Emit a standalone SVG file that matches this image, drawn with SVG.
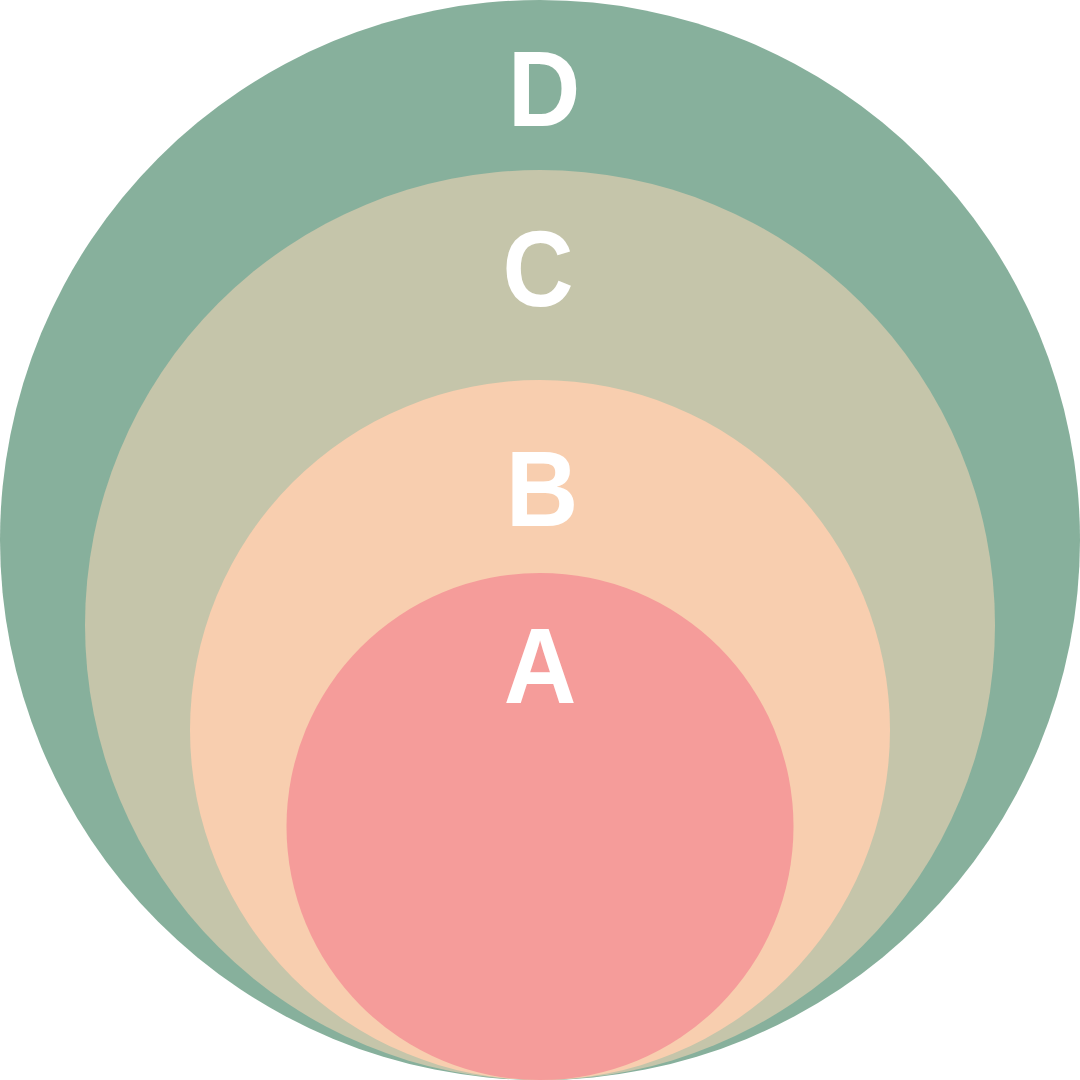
<svg xmlns="http://www.w3.org/2000/svg" width="1080" height="1080" viewBox="0 0 1080 1080">
<style>
.lbl{font-family:"Liberation Sans",Arial,sans-serif;font-weight:bold;font-size:107px;fill:#ffffff;text-anchor:middle}
</style>
<rect width="1080" height="1080" fill="#ffffff"/>
<g id="node-D"><circle cx="540" cy="540" r="540" fill="#87b09c"/><text class="lbl" transform="translate(544,126) scale(0.94,1)">D</text></g>
<g id="node-C"><circle cx="540" cy="625" r="455" fill="#c5c5aa"/><text class="lbl" transform="translate(538,306) scale(0.92,1)">C</text></g>
<g id="node-B"><circle cx="540" cy="730" r="350" fill="#f8ceaf"/><text class="lbl" transform="translate(542,526) scale(0.94,1)">B</text></g>
<g id="node-A"><circle cx="540" cy="826.5" r="253.5" fill="#f59c9a"/><text class="lbl" transform="translate(540,703) scale(0.94,1)">A</text></g>
<g id="connectors"></g>
</svg>
